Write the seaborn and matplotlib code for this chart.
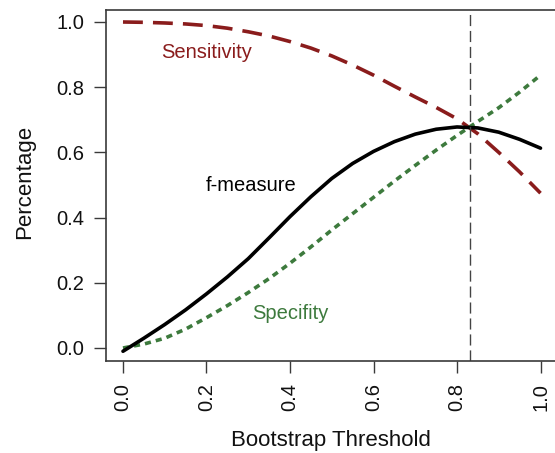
import matplotlib
matplotlib.use("Agg")
import matplotlib.pyplot as plt
import seaborn as sns
import pandas as pd

# Data
threshold = [0.00, 0.05, 0.10, 0.15, 0.20, 0.25, 0.30, 0.35, 0.40, 0.45, 0.50,
             0.55, 0.60, 0.65, 0.70, 0.75, 0.80, 0.85, 0.90, 0.95, 1.00]
sensitivity = [1.000, 0.999, 0.997, 0.994, 0.989, 0.981, 0.970, 0.957, 0.940, 0.920, 0.896,
               0.868, 0.837, 0.803, 0.770, 0.738, 0.703, 0.657, 0.600, 0.540, 0.475]
fmeasure = [-0.010, 0.030, 0.072, 0.117, 0.166, 0.218, 0.274, 0.338, 0.403, 0.464, 0.520,
            0.566, 0.603, 0.633, 0.656, 0.671, 0.678, 0.675, 0.662, 0.640, 0.613]
specifity = [0.000, 0.012, 0.030, 0.058, 0.093, 0.130, 0.170, 0.213, 0.260, 0.310, 0.362,
             0.412, 0.462, 0.512, 0.560, 0.607, 0.652, 0.695, 0.737, 0.785, 0.837]
best_threshold = 0.831
x_ticks = [0.0, 0.2, 0.4, 0.6, 0.8, 1.0]
y_ticks = [0.0, 0.2, 0.4, 0.6, 0.8, 1.0]

df = pd.DataFrame({"threshold": threshold, "sensitivity": sensitivity,
                   "fmeasure": fmeasure, "specifity": specifity})

sns.set_style("white")
plt.rcParams["font.family"] = ["Liberation Sans", "DejaVu Sans"]

RED = "#8A1C1C"
GREEN = "#3D7A3D"
AX = "#3a3a3a"

fig = plt.figure(figsize=(5.55, 4.53), dpi=100)
ax = fig.add_axes([106 / 555, 1 - 361 / 453, 451 / 555, 351 / 453])

lw = 2.6
sns.lineplot(data=df, x="threshold", y="sensitivity", ax=ax, color=RED, lw=lw)
ax.lines[-1].set_dashes((5.5, 2.8))
ax.lines[-1].set_dash_capstyle("butt")
sns.lineplot(data=df, x="threshold", y="specifity", ax=ax, color=GREEN, lw=lw)
ax.lines[-1].set_dashes((1.7, 1.4))
ax.lines[-1].set_dash_capstyle("butt")
sns.lineplot(data=df, x="threshold", y="fmeasure", ax=ax, color="black", lw=lw)
ax.lines[-1].set_solid_joinstyle("round")
ax.axvline(best_threshold, color="#444444", lw=1.0, dashes=(8, 3.5))

ax.text(0.199, 0.905, "Sensitivity", color=RED, fontsize=14.5, ha="center", va="center")
ax.text(0.307, 0.497, "f-measure", color="black", fontsize=14.5, ha="center", va="center")
ax.text(0.40, 0.107, "Specifity", color=GREEN, fontsize=14.5, ha="center", va="center")

ax.set_xlim(-0.0407, 1.0395)
ax.set_ylim(-0.0399, 1.0368)
ax.set_xticks(x_ticks)
ax.set_yticks(y_ticks)
ax.set_xticklabels([f"{t:.1f}" for t in x_ticks], rotation=90)
ax.set_yticklabels([f"{t:.1f}" for t in y_ticks])
ax.tick_params(axis="both", direction="out", length=8.6, width=1.0, color=AX,
               pad=7.0, labelsize=14.5, labelcolor="#111111",
               bottom=True, left=True)
for s in ax.spines.values():
    s.set_color(AX)
    s.set_linewidth(1.2)

ax.set_xlabel("Bootstrap Threshold", fontsize=16, color="#111111")
ax.set_ylabel("Percentage", fontsize=16, color="#111111")
ax.xaxis.set_label_coords(0.499, -0.1966)
ax.yaxis.set_label_coords((35 - 106) / 451, 0.509)

fig.savefig("out.png", dpi=100)
